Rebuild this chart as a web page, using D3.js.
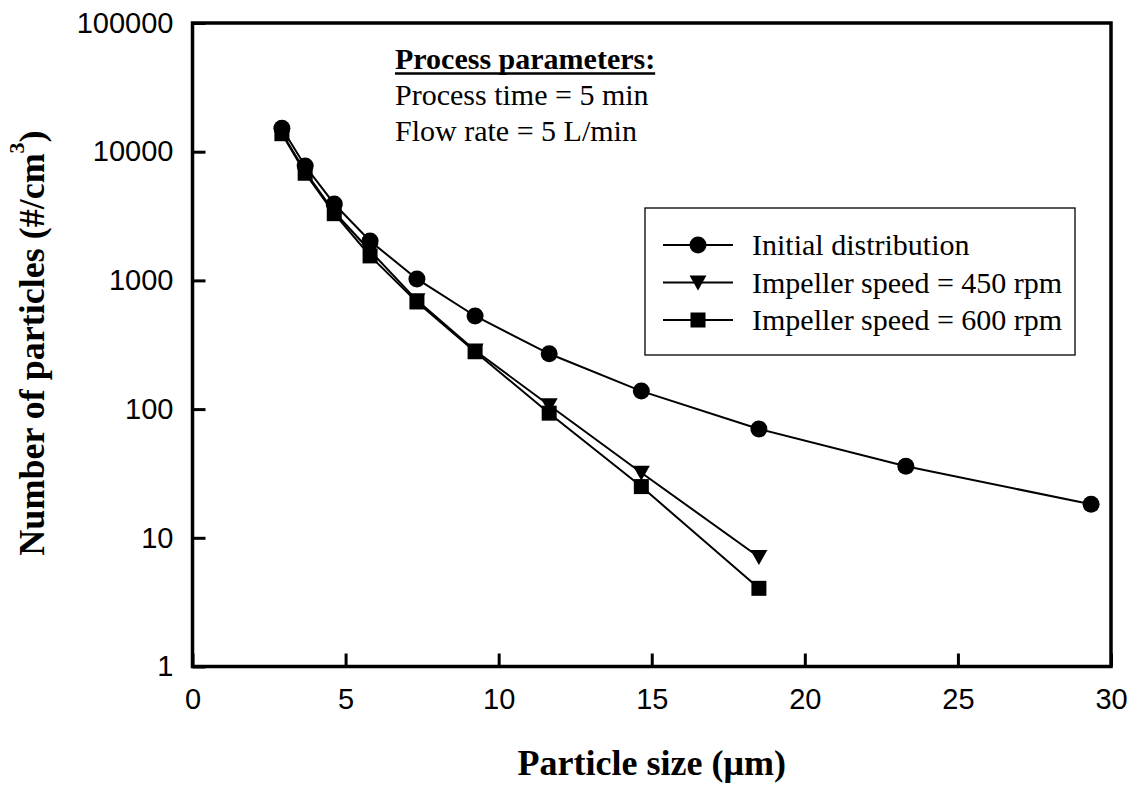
<!DOCTYPE html>
<html>
<head>
<meta charset="utf-8">
<script src="https://cdn.jsdelivr.net/npm/d3@7"></script>
<style>
  body { margin: 0; background: #fff; }
  svg { display: block; }
  .tick text { font-family: "Liberation Sans", Arial, sans-serif; font-size: 29px; fill: #000; }
</style>
</head>
<body>
<svg id="chart" width="1136" height="787"></svg>
<script>
// particle sizes (µm)
var sizes = [2.92, 3.68, 4.63, 5.80, 7.33, 9.23, 11.65, 14.66, 18.5, 23.3, 29.35];
var initialDist = [15200, 7740, 3925, 2024, 1026, 529, 269, 138, 70, 36, 18.2];
var speed450 = [14000, 7000, 3400, 1700, 700, 285, 107, 32, 7.1];
var speed600 = [13800, 6800, 3300, 1550, 680, 279, 93, 25, 4.05];
var xTicks = [0, 5, 10, 15, 20, 25, 30];
var yTicks = [1, 10, 100, 1000, 10000, 100000];
var legendLabels = ["Initial distribution", "Impeller speed = 450 rpm", "Impeller speed = 600 rpm"];
var noteLines = ["Process parameters:", "Process time = 5 min", "Flow rate = 5 L/min"];

var serif = "'Liberation Serif', 'Times New Roman', serif";
var svg = d3.select("#chart");
var L = 192.5, R = 1111, T = 23, B = 666.5;

var x = d3.scaleLinear().domain([0, 30]).range([L, R]);
var y = d3.scaleLog().domain([1, 100000]).range([B, T]);

// axes, ticks pointing inward
svg.append("g")
  .attr("transform", "translate(0," + B + ")")
  .call(d3.axisBottom(x).tickValues(xTicks).tickSizeInner(-13).tickSizeOuter(0).tickPadding(22))
  .call(g => g.select(".domain").remove())
  .call(g => g.selectAll("line").attr("stroke", "#000").attr("stroke-width", 3));

svg.append("g")
  .attr("transform", "translate(" + L + ",0)")
  .call(d3.axisLeft(y).tickValues(yTicks).tickFormat(d3.format("d")).tickSizeInner(-13).tickSizeOuter(0).tickPadding(19))
  .call(g => g.select(".domain").remove())
  .call(g => g.selectAll("line").attr("stroke", "#000").attr("stroke-width", 3));

// frame
svg.append("rect")
  .attr("x", L).attr("y", T).attr("width", R - L).attr("height", B - T)
  .attr("fill", "none").attr("stroke", "#000").attr("stroke-width", 3.5);

var series = [
  { name: legendLabels[0], vals: initialDist, sym: "circle" },
  { name: legendLabels[1], vals: speed450, sym: "tri" },
  { name: legendLabels[2], vals: speed600, sym: "square" }
];

var line = d3.line().x(d => x(d[0])).y(d => y(d[1]));

function marker (g, sym) {
  if (sym === "circle") g.append("circle").attr("r", 8.5);
  else if (sym === "square") g.append("rect").attr("x", -7.5).attr("y", -7.5).attr("width", 15).attr("height", 15);
  else g.append("path").attr("d", "M-8.5,-7 L8.5,-7 L0,8 Z");
  g.attr("fill", "#000");
}

// draw the later series first so the circles sit on top
series.slice().reverse().forEach(s => {
  var pts = s.vals.map((v, i) => [sizes[i], v]);
  svg.append("path").datum(pts).attr("d", line)
    .attr("fill", "none").attr("stroke", "#000").attr("stroke-width", 2);
  pts.forEach(p => {
    marker(svg.append("g").attr("transform", "translate(" + x(p[0]) + "," + y(p[1]) + ")"), s.sym);
  });
});

// legend
var lg = svg.append("g");
lg.append("rect").attr("x", 645).attr("y", 208).attr("width", 430).attr("height", 147)
  .attr("fill", "#fff").attr("stroke", "#000").attr("stroke-width", 1.3);
series.forEach((s, i) => {
  var cy = 245 + i * 37.5;
  lg.append("line").attr("x1", 663).attr("x2", 733).attr("y1", cy).attr("y2", cy)
    .attr("stroke", "#000").attr("stroke-width", 2);
  marker(lg.append("g").attr("transform", "translate(698," + cy + ")"), s.sym);
  lg.append("text").attr("x", 752).attr("y", cy + 10)
    .attr("font-family", serif).attr("font-size", 30).text(s.name);
});

// process parameters note
var note = svg.append("g").attr("font-family", serif).attr("font-size", 30);
var head = note.append("text").attr("x", 395).attr("y", 69).attr("font-weight", "bold").text(noteLines[0]);
var hw = head.node().getComputedTextLength();
note.append("line").attr("x1", 395).attr("x2", 395 + hw).attr("y1", 73.5).attr("y2", 73.5)
  .attr("stroke", "#000").attr("stroke-width", 2.5);
note.append("text").attr("x", 395).attr("y", 105).text(noteLines[1]);
note.append("text").attr("x", 395).attr("y", 141).text(noteLines[2]);

// axis titles
svg.append("text").attr("x", (L + R) / 2).attr("y", 775).attr("text-anchor", "middle")
  .attr("font-family", serif).attr("font-size", 36).attr("font-weight", "bold")
  .text("Particle size (\u03bcm)");

var yt = svg.append("text").attr("transform", "translate(44,343) rotate(-90)")
  .attr("text-anchor", "middle").attr("font-family", serif).attr("font-size", 36).attr("font-weight", "bold");
yt.append("tspan").text("Number of particles (#/cm");
yt.append("tspan").attr("font-size", 22).attr("dy", -20).text("3");
yt.append("tspan").attr("dy", 20).text(")");
</script>
</body>
</html>
